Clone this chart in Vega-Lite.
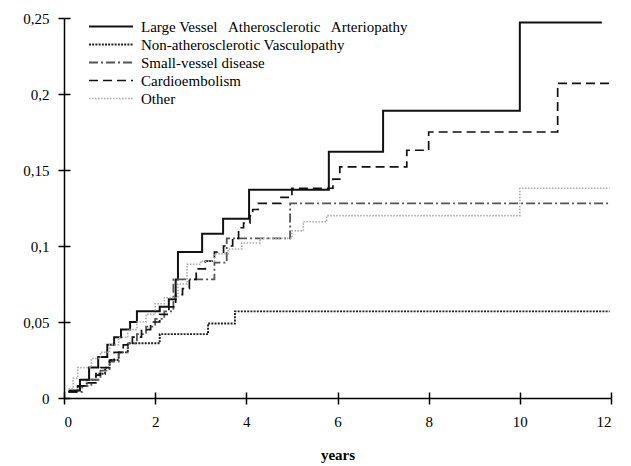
{
  "$schema": "https://vega.github.io/schema/vega-lite/v6.json",
  "width": 547,
  "height": 380,
  "autosize": {"type": "none"},
  "padding": {"left": 64, "top": 18, "right": 20, "bottom": 68},
  "background": "white",
  "config": {"view": {"stroke": null}, "font": "Liberation Serif"},
  "datasets": {
    "km": [
      {"g": "L", "t": 0.1, "v": 0.005},
      {"g": "L", "t": 0.35, "v": 0.012},
      {"g": "L", "t": 0.55, "v": 0.02},
      {"g": "L", "t": 0.75, "v": 0.027},
      {"g": "L", "t": 0.95, "v": 0.035},
      {"g": "L", "t": 1.1, "v": 0.04},
      {"g": "L", "t": 1.25, "v": 0.045},
      {"g": "L", "t": 1.45, "v": 0.05},
      {"g": "L", "t": 1.6, "v": 0.057},
      {"g": "L", "t": 2.1, "v": 0.06},
      {"g": "L", "t": 2.3, "v": 0.065},
      {"g": "L", "t": 2.45, "v": 0.078},
      {"g": "L", "t": 2.5, "v": 0.096},
      {"g": "L", "t": 3.03, "v": 0.108},
      {"g": "L", "t": 3.49, "v": 0.118},
      {"g": "L", "t": 4.06, "v": 0.137},
      {"g": "L", "t": 5.81, "v": 0.162},
      {"g": "L", "t": 7.0, "v": 0.189},
      {"g": "L", "t": 10.0, "v": 0.247},
      {"g": "L", "t": 11.8, "v": 0.247},

      {"g": "N", "t": 0.1, "v": 0.004},
      {"g": "N", "t": 0.3, "v": 0.008},
      {"g": "N", "t": 0.5, "v": 0.012},
      {"g": "N", "t": 0.7, "v": 0.016},
      {"g": "N", "t": 0.9, "v": 0.02},
      {"g": "N", "t": 1.0, "v": 0.025},
      {"g": "N", "t": 1.2, "v": 0.03},
      {"g": "N", "t": 1.4, "v": 0.036},
      {"g": "N", "t": 2.1, "v": 0.042},
      {"g": "N", "t": 3.16, "v": 0.049},
      {"g": "N", "t": 3.75, "v": 0.057},
      {"g": "N", "t": 11.97, "v": 0.057},

      {"g": "S", "t": 0.1, "v": 0.004},
      {"g": "S", "t": 0.4, "v": 0.008},
      {"g": "S", "t": 0.6, "v": 0.012},
      {"g": "S", "t": 0.8, "v": 0.018},
      {"g": "S", "t": 1.0, "v": 0.024},
      {"g": "S", "t": 1.2, "v": 0.03},
      {"g": "S", "t": 1.4, "v": 0.036},
      {"g": "S", "t": 1.6, "v": 0.042},
      {"g": "S", "t": 1.8, "v": 0.047},
      {"g": "S", "t": 2.0, "v": 0.052},
      {"g": "S", "t": 2.2, "v": 0.057},
      {"g": "S", "t": 2.4, "v": 0.078},
      {"g": "S", "t": 3.3, "v": 0.089},
      {"g": "S", "t": 3.57, "v": 0.105},
      {"g": "S", "t": 4.96, "v": 0.128},
      {"g": "S", "t": 11.97, "v": 0.128},

      {"g": "C", "t": 0.1, "v": 0.004},
      {"g": "C", "t": 0.3, "v": 0.008},
      {"g": "C", "t": 0.5, "v": 0.01},
      {"g": "C", "t": 0.7, "v": 0.015},
      {"g": "C", "t": 0.8, "v": 0.02},
      {"g": "C", "t": 1.0, "v": 0.025},
      {"g": "C", "t": 1.1, "v": 0.03},
      {"g": "C", "t": 1.3, "v": 0.035},
      {"g": "C", "t": 1.5, "v": 0.04},
      {"g": "C", "t": 1.7, "v": 0.045},
      {"g": "C", "t": 1.9, "v": 0.05},
      {"g": "C", "t": 2.1, "v": 0.055},
      {"g": "C", "t": 2.3, "v": 0.06},
      {"g": "C", "t": 2.45, "v": 0.068},
      {"g": "C", "t": 2.6, "v": 0.072},
      {"g": "C", "t": 2.75, "v": 0.078},
      {"g": "C", "t": 2.9, "v": 0.085},
      {"g": "C", "t": 3.1, "v": 0.09},
      {"g": "C", "t": 3.3, "v": 0.096},
      {"g": "C", "t": 3.5, "v": 0.1},
      {"g": "C", "t": 3.7, "v": 0.105},
      {"g": "C", "t": 3.83, "v": 0.112},
      {"g": "C", "t": 3.94, "v": 0.115},
      {"g": "C", "t": 4.08, "v": 0.12},
      {"g": "C", "t": 4.14, "v": 0.124},
      {"g": "C", "t": 4.26, "v": 0.128},
      {"g": "C", "t": 4.76, "v": 0.132},
      {"g": "C", "t": 5.0, "v": 0.138},
      {"g": "C", "t": 5.9, "v": 0.144},
      {"g": "C", "t": 6.05, "v": 0.152},
      {"g": "C", "t": 7.52, "v": 0.163},
      {"g": "C", "t": 8.0, "v": 0.175},
      {"g": "C", "t": 10.83, "v": 0.207},
      {"g": "C", "t": 11.97, "v": 0.207},

      {"g": "O", "t": 0.1, "v": 0.006},
      {"g": "O", "t": 0.2, "v": 0.013},
      {"g": "O", "t": 0.3, "v": 0.02},
      {"g": "O", "t": 0.6, "v": 0.026},
      {"g": "O", "t": 0.8, "v": 0.03},
      {"g": "O", "t": 1.0, "v": 0.035},
      {"g": "O", "t": 1.2, "v": 0.04},
      {"g": "O", "t": 1.4, "v": 0.045},
      {"g": "O", "t": 1.6, "v": 0.05},
      {"g": "O", "t": 1.8, "v": 0.055},
      {"g": "O", "t": 2.0, "v": 0.062},
      {"g": "O", "t": 2.2, "v": 0.066},
      {"g": "O", "t": 2.5, "v": 0.075},
      {"g": "O", "t": 2.7, "v": 0.088},
      {"g": "O", "t": 3.0, "v": 0.09},
      {"g": "O", "t": 3.3, "v": 0.095},
      {"g": "O", "t": 3.6, "v": 0.098},
      {"g": "O", "t": 3.9, "v": 0.102},
      {"g": "O", "t": 4.3, "v": 0.105},
      {"g": "O", "t": 5.0, "v": 0.11},
      {"g": "O", "t": 5.25, "v": 0.116},
      {"g": "O", "t": 5.76, "v": 0.12},
      {"g": "O", "t": 10.0, "v": 0.138},
      {"g": "O", "t": 11.97, "v": 0.138}
    ]
  },
  "data": {"name": "km"},
  "layer": [
    {
      "mark": {"type": "line", "interpolate": "step-after"},
      "encoding": {
        "x": {
          "field": "t",
          "type": "quantitative",
          "scale": {"domain": [0, 12], "nice": false},
          "axis": {
            "orient": "bottom",
            "title": "years",
            "titleFont": "Liberation Serif",
            "titleFontSize": 15,
            "titleFontWeight": "bold",
            "titleColor": "black",
            "titlePadding": 18,
            "values": [0, 2, 4, 6, 8, 10, 12],
            "grid": false,
            "domainColor": "black",
            "domainWidth": 1.5,
            "tickColor": "black",
            "tickWidth": 1.5,
            "tickSize": 6,
            "labelFont": "Liberation Serif",
            "labelFontSize": 15,
            "labelColor": "black",
            "labelPadding": 10
          }
        },
        "y": {
          "field": "v",
          "type": "quantitative",
          "scale": {"domain": [0, 0.25], "nice": false},
          "axis": {
            "orient": "left",
            "title": null,
            "values": [0, 0.05, 0.1, 0.15, 0.2, 0.25],
            "labelExpr": "replace(format(datum.value, ''), '.', ',')",
            "grid": false,
            "domainColor": "black",
            "domainWidth": 1.5,
            "tickColor": "black",
            "tickWidth": 1.5,
            "tickSize": 6,
            "labelFont": "Liberation Serif",
            "labelFontSize": 15,
            "labelColor": "black",
            "labelPadding": 9
          }
        },
        "color": {
          "field": "g",
          "type": "nominal",
          "scale": {
            "domain": ["L", "N", "S", "C", "O"],
            "range": ["#111111", "#222222", "#555555", "#111111", "#a8a8a8"]
          },
          "legend": {
            "title": null,
            "orient": "none",
            "legendX": 39.5,
            "legendY": 1,
            "symbolType": "M-4,0L4,0",
            "symbolSize": 121,
            "symbolFillColor": "transparent",
            "labelFont": "Liberation Serif",
            "labelFontSize": 15,
            "labelColor": "black",
            "labelLimit": 400,
            "labelOffset": 22.5,
            "rowPadding": 2,
            "labelExpr": "datum.label == 'L' ? 'Large Vessel\u00a0\u00a0 Atherosclerotic\u00a0\u00a0 Arteriopathy' : datum.label == 'N' ? 'Non-atherosclerotic Vasculopathy' : datum.label == 'S' ? 'Small-vessel disease' : datum.label == 'C' ? 'Cardioembolism' : 'Other'"
          }
        },
        "strokeDash": {
          "field": "g",
          "type": "nominal",
          "scale": {
            "domain": ["L", "N", "S", "C", "O"],
            "range": [[1, 0], [2, 1.2], [9, 3, 2, 3], [9, 5], [1.5, 1.5]]
          }
        },
        "strokeWidth": {
          "field": "g",
          "type": "nominal",
          "scale": {
            "domain": ["L", "N", "S", "C", "O"],
            "range": [2, 1.6, 2, 2, 1.6]
          }
        }
      }
    },
    {
      "mark": {"type": "point", "opacity": 0},
      "encoding": {
        "x": {
          "field": "t",
          "type": "quantitative",
          "scale": {"domain": [0, 12], "nice": false},
          "axis": {
            "orient": "bottom",
            "offset": -6,
            "title": null,
            "labels": false,
            "domain": false,
            "grid": false,
            "values": [0, 2, 4, 6, 8, 10, 12],
            "tickColor": "black",
            "tickWidth": 1.5,
            "tickSize": 6
          }
        },
        "y": {
          "field": "v",
          "type": "quantitative",
          "scale": {"domain": [0, 0.25], "nice": false},
          "axis": {
            "orient": "left",
            "offset": -6,
            "title": null,
            "labels": false,
            "domain": false,
            "grid": false,
            "values": [0, 0.05, 0.1, 0.15, 0.2, 0.25],
            "tickColor": "black",
            "tickWidth": 1.5,
            "tickSize": 6
          }
        }
      }
    }
  ],
  "resolve": {
    "scale": {"x": "independent", "y": "independent"},
    "axis": {"x": "independent", "y": "independent"}
  }
}
